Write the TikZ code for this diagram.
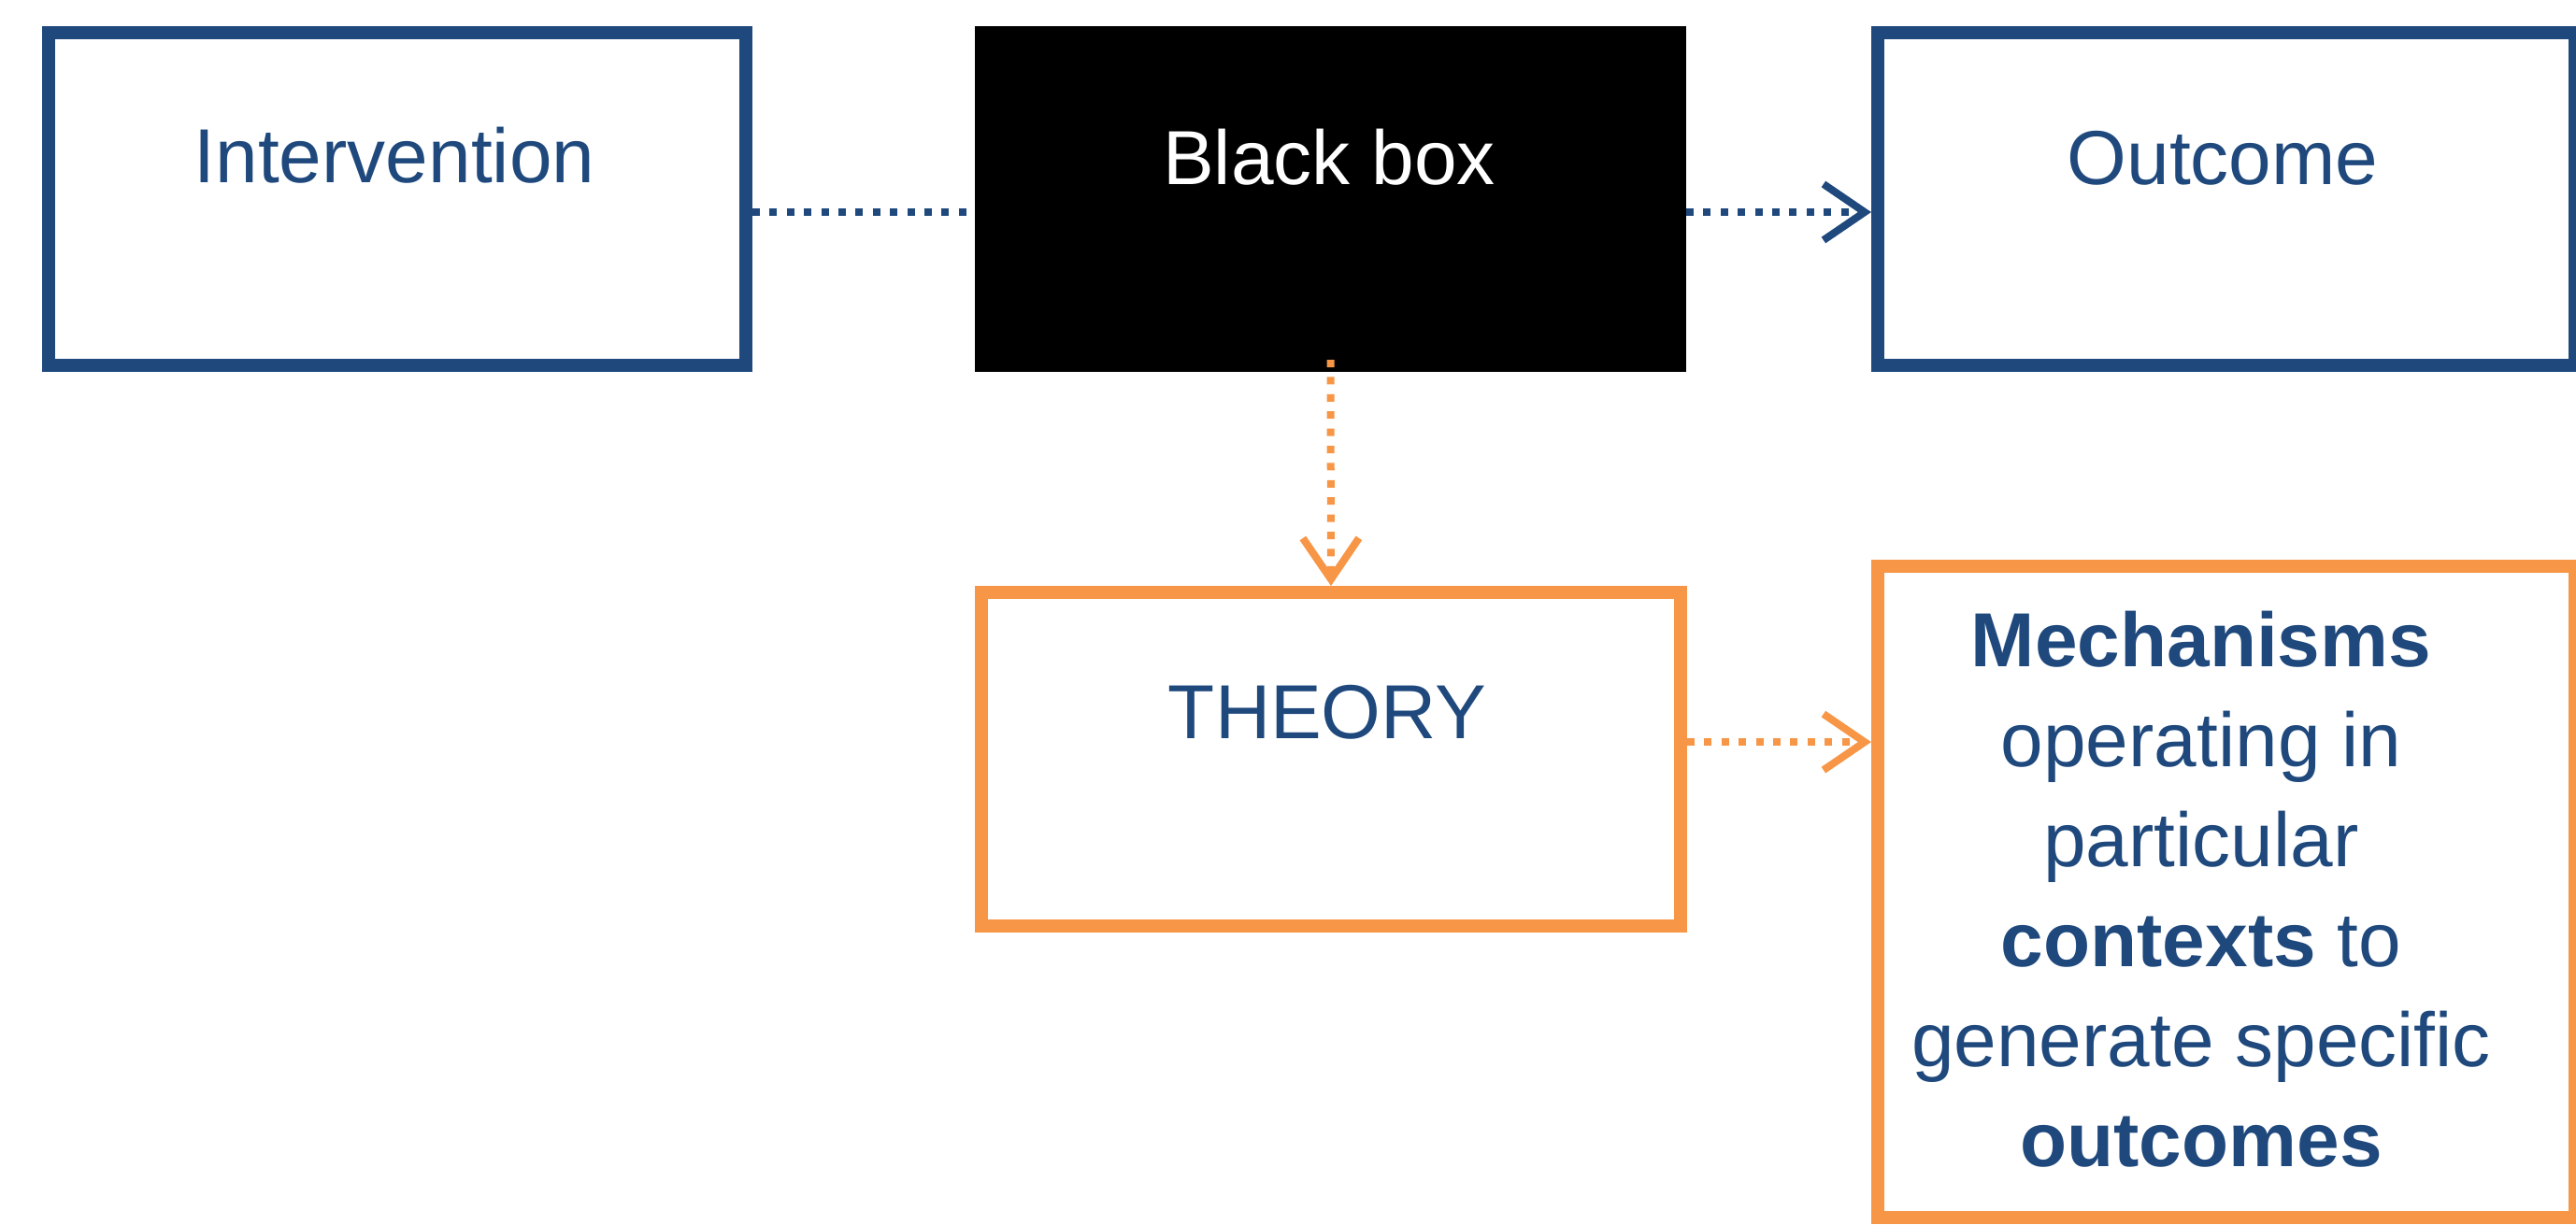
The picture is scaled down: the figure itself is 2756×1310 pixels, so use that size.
\documentclass[tikz,border=0pt]{standalone}
\usepackage{fontspec}
\setmainfont{Liberation Sans}
\usepackage{tikz}
\usetikzlibrary{arrows.meta}
\definecolor{boxblue}{HTML}{1F497D}
\definecolor{boxorange}{HTML}{F79646}
\tikzset{bluebox/.style={draw=boxblue,line width=3.5pt,minimum width=186.5pt,minimum height=89pt,inner sep=0pt},
    orangebox/.style={draw=boxorange,line width=3.5pt,minimum width=187pt,inner sep=0pt},
    boxtext/.style={text=boxblue,font=\fontsize{20.5pt}{24pt}\selectfont,inner sep=0pt,anchor=base},
    dotline/.style={line width=2pt,dash pattern=on 2pt off 2.6pt},
    barb/.style={-{Straight Barb[length=11pt,width=15pt,line width=2pt]}}}

\begin{document}
\begin{tikzpicture}[x=0.25pt,y=0.25pt,yscale=-1,xscale=1]
%set diagram left start at 0, and has height of 1310
\useasboundingbox (0,0) rectangle (2756,1310);

%Shape: Rectangle [id:int]
\node [bluebox] (int) at (425,213) {};
%Shape: Rectangle [id:blk]
\node [fill=black,minimum width=190.25pt,minimum height=92.5pt,inner sep=0pt,outer sep=0pt] (blk) at (1423.5,213) {};
%Shape: Rectangle [id:out]
\node [bluebox] (out) at (2382,213) {};
%Shape: Rectangle [id:thy]
\node [orangebox,minimum height=89.25pt] (thy) at (1424,812.5) {};
%Shape: Rectangle [id:mech]
\node [orangebox,minimum width=186.5pt,minimum height=174.25pt] (mech) at (2382,954.5) {};

%Straight Lines
\draw [dotline,draw=boxblue] ([yshift=3.5pt]int.east) -- ([yshift=3.5pt]blk.west) ;
\draw [dotline,draw=boxblue,barb] ([yshift=3.5pt]blk.east) -- ([yshift=3.5pt]out.west) ;
\draw [dotline,draw=boxorange,barb] ([yshift=-3.25pt]blk.south) -- (thy.north) ;
\draw [dotline,draw=boxorange,barb] ([yshift=-4.6pt]thy.east) -- ([yshift=-4.6pt]thy.east -| mech.west) ;

% Text Node
\node [boxtext] (tint) at (422,195) {Intervention};
% Text Node
\node [boxtext,text=white] (tblk) at (1422,197) {Black box};
% Text Node
\node [boxtext] (tout) at (2378,197) {Outcome};
% Text Node
\node [boxtext] (tthy) at (1420,790) {THEORY};
% Text Node
\node [text=boxblue,inner sep=0pt,align=center,font=\fontsize{20.5pt}{26.75pt}\selectfont] (tmech) at (2355,951.5) {\textbf{Mechanisms}\\operating in\\particular\\\textbf{contexts} to\\generate specific\\\textbf{outcomes}};

\end{tikzpicture}
\end{document}
